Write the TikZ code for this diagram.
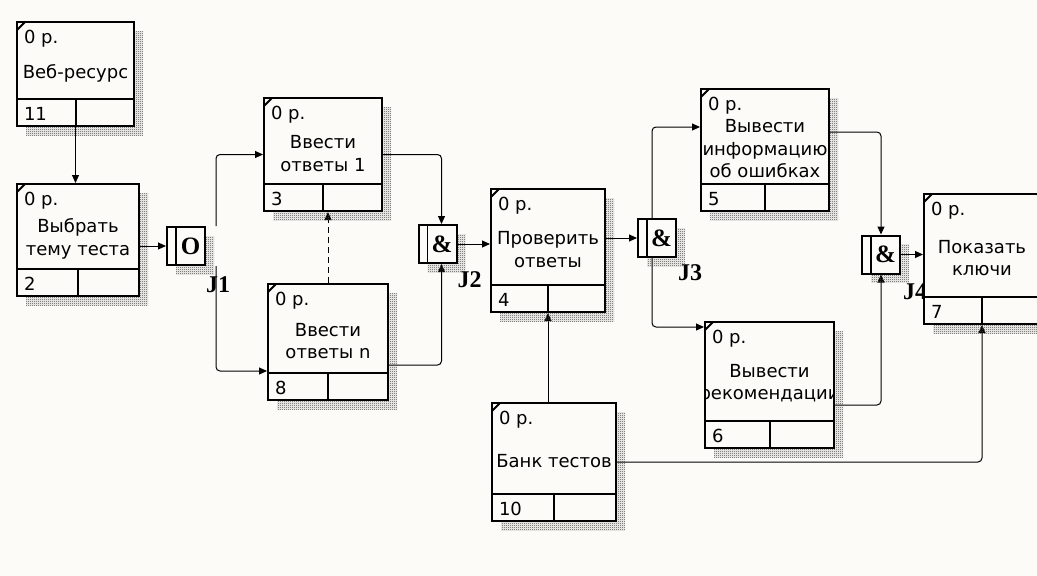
\documentclass[tikz,border=0pt]{standalone}
\usepackage{fontspec}
\setmainfont{DejaVu Sans}
\newfontfamily\jfont{Liberation Serif}
\usetikzlibrary{arrows.meta,calc,patterns,shadows,positioning}
\definecolor{paper}{RGB}{252,251,248}
\pgfdeclarelayer{wires}
\pgfsetlayers{wires,main}
\newcommand{\boxfont}{\fontsize{18}{22.5}\selectfont}
% fine checker for the shadows
\pgfdeclarepatternformonly{fine checker}{\pgfpointorigin}{\pgfqpoint{2pt}{2pt}}{\pgfqpoint{2pt}{2pt}}{%
  \pgfpathrectangle{\pgfpointorigin}{\pgfqpoint{1pt}{1pt}}%
  \pgfpathrectangle{\pgfqpoint{1pt}{1pt}}{\pgfqpoint{1pt}{1pt}}%
  \pgfusepath{fill}}

\tikzset{
  flow/.style={-{Triangle[length=8pt,width=7pt]}, line width=1pt, rounded corners=4pt},
  hatch/.style={general shadow={shadow xshift=9pt, shadow yshift=-9pt,
      pattern=fine checker, pattern color=black!75}},
  intext/.style={draw=none, fill=none, minimum width=0pt, minimum height=0pt,
    inner sep=0pt, font=\boxfont},
  uow/.style n args={4}{draw, line width=2pt, fill=paper, anchor=north west,
    inner sep=0pt, minimum width=#1, minimum height=#2, hatch,
    path picture={
      \draw[line width=2pt] ([yshift=-8pt]path picture bounding box.north west)
        -- ([xshift=8pt]path picture bounding box.north west);
      \draw[line width=2pt] ([yshift=27pt]path picture bounding box.south west)
        -- ([yshift=27pt]path picture bounding box.south east);
      \draw[line width=2pt] (path picture bounding box.south)
        -- ([yshift=27pt]path picture bounding box.south);
      \node[intext, anchor=base west]
        at ([xshift=6pt,yshift=-21.5pt]path picture bounding box.north west) {0 р.};
      \node[intext, anchor=base west]
        at ([xshift=6pt,yshift=6pt]path picture bounding box.south west) {#4};
      \node[intext, anchor=center, align=center] at
        ($([yshift=-25pt]path picture bounding box.north)!0.5!([yshift=27pt]path picture bounding box.south)$) {#3};
    }},
  jct/.style={draw, line width=2pt, fill=paper, minimum size=38pt, inner sep=0pt, hatch,
    path picture={
      \draw[line width=1.6pt] ([xshift=9pt]path picture bounding box.north west)
        -- ([xshift=9pt]path picture bounding box.south west);
      \node[intext, font=\jfont\bfseries\fontsize{25}{25}\selectfont]
        at ([xshift=4.5pt]path picture bounding box.center) {#1};
    }},
  jlabel/.style={inner sep=0pt, font=\jfont\bfseries\fontsize{24}{24}\selectfont},
}

\begin{document}
\begin{tikzpicture}[x=1pt,y=-1pt]
  \useasboundingbox (0,0) rectangle (1037,576);
  % junctions and their labels
  \node[jct=O] (j1) at (186,246) {};
  \node[jct=\&] (j2) at (437.5,244) {};
  \node[jct=\&] (j3) at (657,238) {};
  \node[jct=\&] (j4) at (881,254.5) {};
  \node[jlabel] (l1) at ([shift={(32,39)}]j1) {J1};
  \node[jlabel] (l2) at ([shift={(32,36)}]j2) {J2};
  \node[jlabel] (l3) at ([shift={(33,35)}]j3) {J3};
  \node[jlabel] (l4) at ([shift={(34,37)}]j4) {J4};
  % units of work
  \node[uow={117}{104}{Веб-ресурс}{11}] (b11) at (16,21) {};
  \node[uow={122}{112}{Выбрать\\тему теста}{2}] (b2) at (16,183) {};
  \node[uow={118}{113}{Ввести\\ответы 1}{3}] (b3) at (263,97) {};
  \node[uow={120}{116}{Ввести\\ответы n}{8}] (b8) at (267,283) {};
  \node[uow={114}{123}{Проверить\\ответы}{4}] (b4) at (490,188) {};
  \node[uow={128}{122}{Вывести\\информацию\\об ошибках}{5}] (b5) at (700,88) {};
  \node[uow={129}{126}{Вывести\\рекомендации}{6}] (b6) at (704,321) {};
  \node[uow={116}{130}{Показать\\ключи}{7}] (b7) at (923,193) {};
  \node[uow={124}{118}{Банк тестов}{10}] (b10) at (491,402) {};

  \begin{pgfonlayer}{wires}
    \fill[paper] (0,0) rectangle (1037,576);
    \draw[flow] (b11.south) -- (b11.south |- b2.north);
    \draw[flow] (b2.east |- j1.west) -- (j1.west);
    \draw[flow] ([xshift=10pt]j1.north east) |- (b3.west);
    \draw[flow] ([xshift=10pt]j1.south east) |- ([yshift=30pt]b8.south west);
    \draw[flow] (b3.east) -| ([xshift=4pt]j2.north);
    \draw[flow] ([yshift=36pt]b8.south east) -| ([xshift=4pt]j2.south);
    \draw[flow, dash pattern=on 6pt off 4pt] (b8.north) -- (b8.north |- b3.south);
    \draw[flow] (j2.east) -- (j2.east -| b4.west);
    \draw[flow] (b4.east |- j3.west) -- (j3.west);
    \draw[flow] ([xshift=15pt]j3.north west) |- ([yshift=-39pt]b5.north west);
    \draw[flow] ([xshift=15pt]j3.south west) |- ([yshift=-6pt]b6.north west);
    \draw[flow] ([yshift=-44pt]b5.north east) -| (j4.north);
    \draw[flow] ([yshift=-84pt]b6.north east) -| (j4.south);
    \draw[flow] (j4.east) -- (j4.east -| b7.west);
    \draw[flow] (b10.east) -| (b7.south);
    \draw[flow] (b4.south |- b10.north) -- (b4.south);
  \end{pgfonlayer}
\end{tikzpicture}
\end{document}
